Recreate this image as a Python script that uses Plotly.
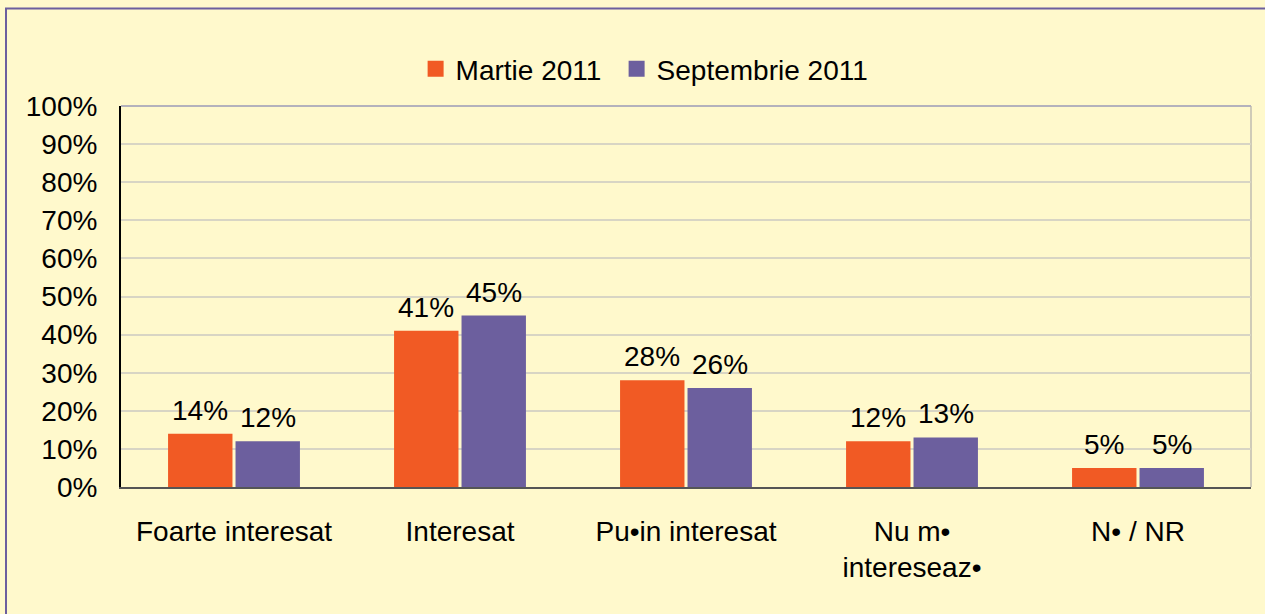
import plotly.graph_objects as go

categories = ["Foarte interesat", "Interesat", "Pu\u2022in interesat", "Nu m\u2022<br>intereseaz\u2022", "N\u2022 / NR"]
series_names = ["Martie 2011", "Septembrie 2011"]
martie = [14, 41, 28, 12, 5]
septembrie = [12, 45, 26, 13, 5]
y_ticks = [0, 10, 20, 30, 40, 50, 60, 70, 80, 90, 100]

colors = ["#F15A24", "#6C5F9E"]
bg = "#FFF9CC"
font_family = "Liberation Sans, Arial, sans-serif"
fs = 28

W, H = 1265, 614
L, R, T, B = 121, 14, 106, 127

fig = go.Figure()
for k, (name, vals, col) in enumerate(zip(series_names, [martie, septembrie], colors)):
    fig.add_trace(go.Bar(
        x=list(range(len(categories))), y=vals, name=name,
        marker=dict(color=col, line=dict(width=0)),
        legendgroup=name, showlegend=False,
    ))
    # legend entry with a larger square swatch
    entry = dict(
        x=[None], y=[None], mode="markers", name=name, legendgroup=name,
        marker=dict(symbol="square", size=16, color=col, line=dict(width=0)),
    )
    if k == 0:
        entry["legendwidth"] = 156
    fig.add_trace(go.Scatter(**entry))

bargap = 0.403
groupgap = 0.045
slot = (1 - bargap) / 2
offsets = [-slot / 2, slot / 2]

annotations = []
for vals, off in zip([martie, septembrie], offsets):
    for i, v in enumerate(vals):
        annotations.append(dict(
            x=i + off, y=v, xref="x", yref="y", text=f"{v}%",
            showarrow=False, yanchor="bottom", yshift=6,
            font=dict(size=fs, color="#000000", family=font_family),
        ))

pw = W - L - R
ph = H - T - B
shapes = [
    # plot area right edge
    dict(type="line", xref="paper", yref="paper", x0=1, x1=1, y0=0, y1=1,
         line=dict(color="#CFCBB8", width=2), layer="below"),
    # plot area top edge
    dict(type="line", xref="paper", yref="paper", x0=0, x1=1, y0=1, y1=1,
         line=dict(color="#B4B2BC", width=2), layer="below"),
    # outer frame
    dict(type="rect", xref="paper", yref="paper",
         x0=(6 - L) / pw, x1=(W + 20 - L) / pw,
         y0=-(H + 20 - T - ph) / ph, y1=(H - B - 8.5) / ph,
         line=dict(color="#6C5F9E", width=2), fillcolor="rgba(0,0,0,0)", layer="above"),
]

fig.update_layout(
    width=W, height=H,
    margin=dict(l=L, r=R, t=T, b=B, autoexpand=False),
    paper_bgcolor=bg, plot_bgcolor=bg,
    font=dict(family=font_family, size=fs, color="#000000"),
    barmode="group", bargap=bargap, bargroupgap=groupgap,
    showlegend=True,
    legend=dict(orientation="h", xref="container", yref="container",
                x=427 / W - 0.009, xanchor="left", y=1 - 44 / H, yanchor="top",
                font=dict(size=fs), bgcolor="rgba(0,0,0,0)", itemclick=False,
                tracegroupgap=0),
    annotations=annotations,
    shapes=shapes,
    xaxis=dict(
        tickmode="array", tickvals=list(range(len(categories))), ticktext=categories,
        range=[-0.5, len(categories) - 0.5],
        showline=True, linecolor="#555555", linewidth=2,
        showgrid=False, zeroline=False,
        ticks="", ticklabelstandoff=18,
        tickfont=dict(size=fs),
    ),
    yaxis=dict(
        range=[0, 100], tickvals=y_ticks, ticktext=[f"{t}%" for t in y_ticks],
        showline=True, linecolor="#000000", linewidth=2,
        showgrid=True, gridcolor="#D8D5C4", gridwidth=2,
        zeroline=False, ticks="", ticklabelstandoff=16,
        tickfont=dict(size=fs),
    ),
)

fig.write_html("out.html")
